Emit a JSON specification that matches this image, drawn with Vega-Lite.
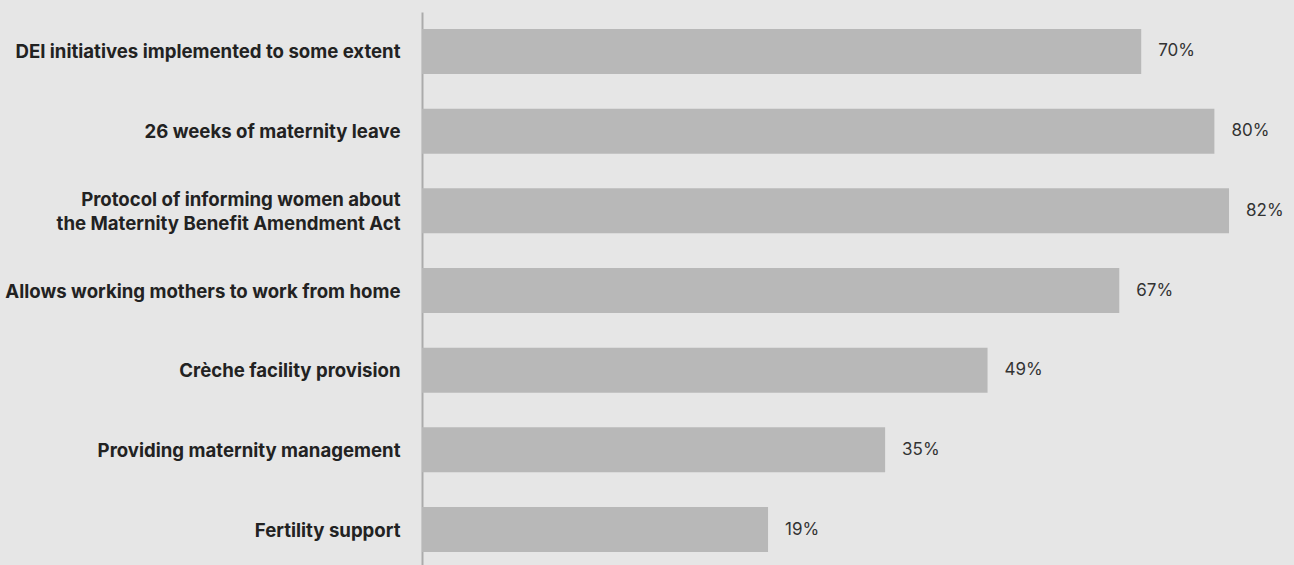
{
  "$schema": "https://vega.github.io/schema/vega-lite/v6.json",
  "width": 872,
  "height": 553,
  "autosize": {"type": "none"},
  "padding": {"left": 422, "top": 12, "right": 0, "bottom": 0},
  "background": "#e6e6e6",
  "config": {"view": {"stroke": null}},
  "data": {
    "values": [
      {"item": "DEI initiatives implemented to some extent", "pct": 70, "label": "70%"},
      {"item": "26 weeks of maternity leave", "pct": 80, "label": "80%"},
      {"item": "Protocol of informing women about the Maternity Benefit Amendment Act", "pct": 82, "label": "82%"},
      {"item": "Allows working mothers to work from home", "pct": 67, "label": "67%"},
      {"item": "Crèche facility provision", "pct": 49, "label": "49%"},
      {"item": "Providing maternity management", "pct": 35, "label": "35%"},
      {"item": "Fertility support", "pct": 19, "label": "19%"}
    ]
  },
  "encoding": {
    "y": {
      "field": "item",
      "type": "nominal",
      "sort": null,
      "scale": {"paddingInner": 0.435, "paddingOuter": 0.188, "align": 0.567},
      "axis": {
        "title": null,
        "ticks": false,
        "domainColor": "#ababab",
        "domainWidth": 2,
        "labelPadding": 22,
        "labelFont": "Inter",
        "labelFontWeight": 700,
        "labelFontSize": 18.6,
        "labelColor": "#222222",
        "labelLimit": 500,
        "labelLineHeight": 24,
        "labelOffset": {"condition": {"test": "datum.value == 'Protocol of informing women about the Maternity Benefit Amendment Act'", "value": -11}, "value": 1},
        "labelExpr": "datum.label == 'Protocol of informing women about the Maternity Benefit Amendment Act' ? ['Protocol of informing women about', 'the Maternity Benefit Amendment Act'] : datum.label"
      }
    }
  },
  "layer": [
    {
      "mark": {"type": "bar", "color": "#b8b8b8"},
      "encoding": {
        "x": {
          "field": "pct",
          "type": "quantitative",
          "scale": {"domain": [-28.29, 90.88], "zero": false, "nice": false},
          "axis": null
        },
        "x2": {"datum": -28.29}
      }
    },
    {
      "mark": {"type": "text", "align": "left", "baseline": "middle", "dx": 17, "font": "Inter", "fontSize": 17, "color": "#333333"},
      "encoding": {
        "x": {"field": "pct", "type": "quantitative"},
        "text": {"field": "label", "type": "nominal"}
      }
    }
  ]
}
